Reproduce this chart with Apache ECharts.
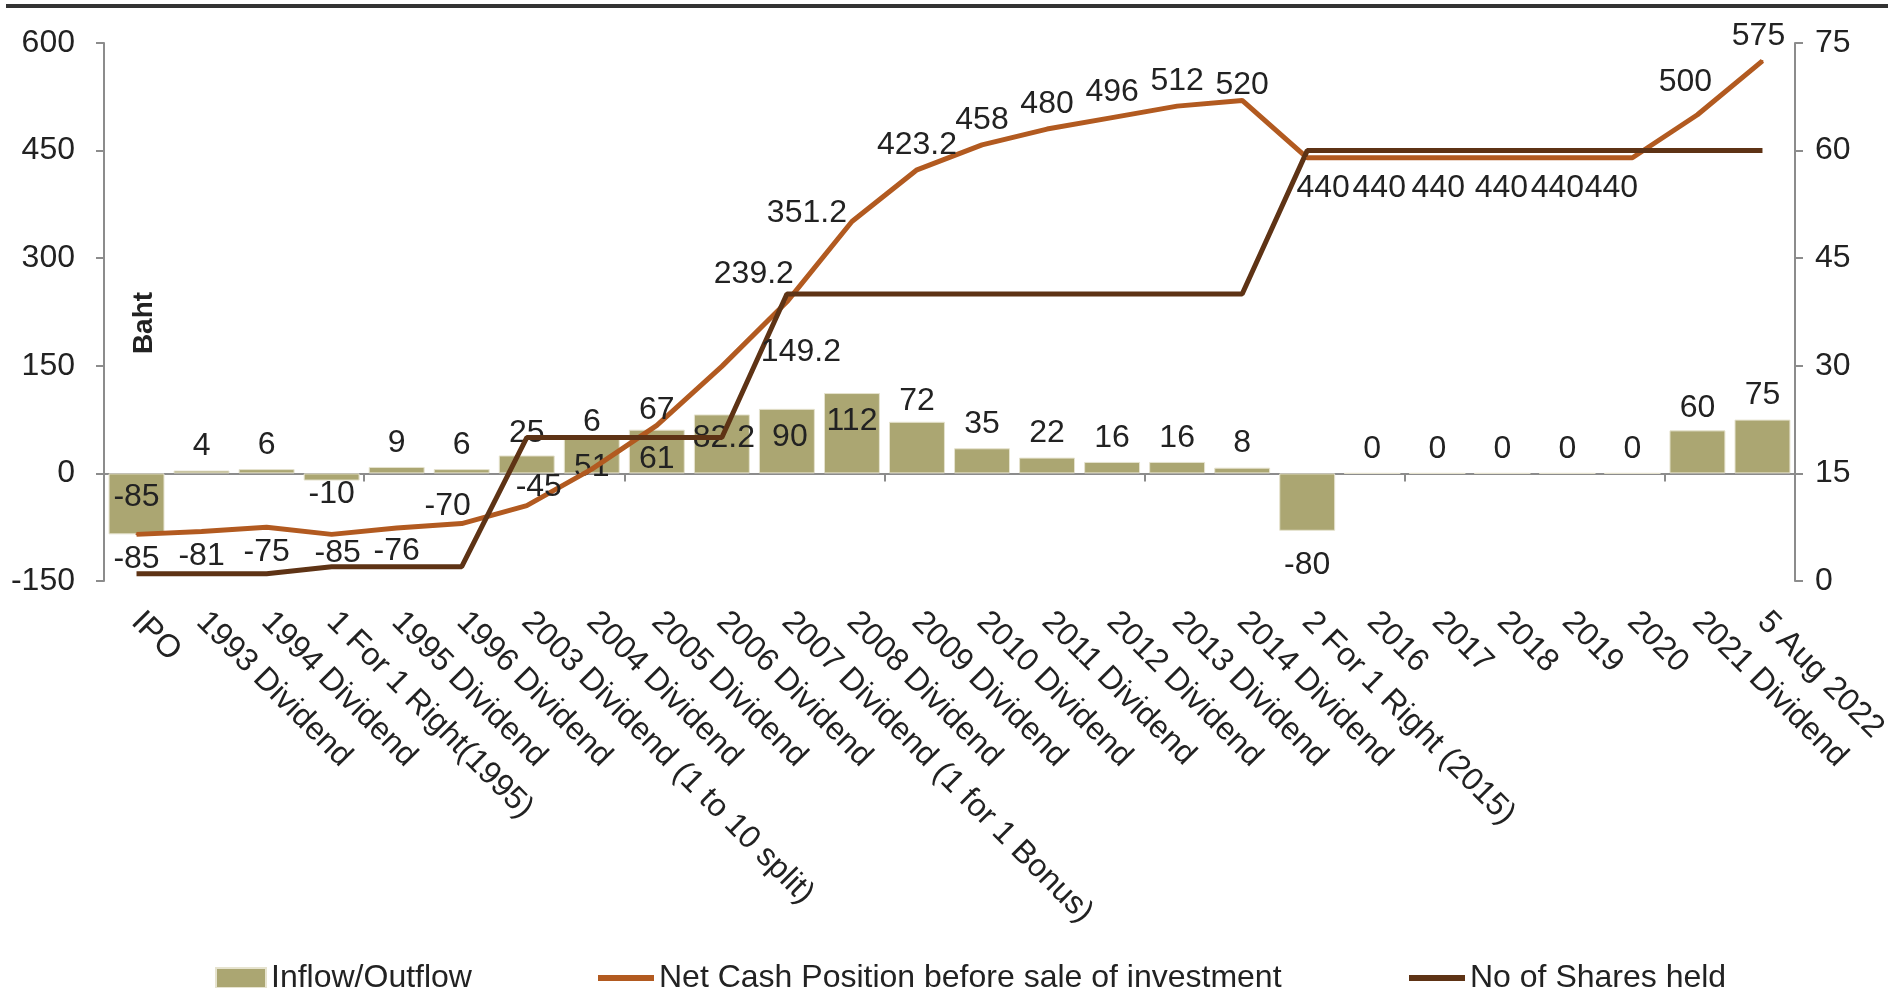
<!DOCTYPE html>
<html lang="en">
<head>
<meta charset="UTF-8">
<title>Inflow / Outflow and Net Cash Position</title>
<script src="https://cdn.jsdelivr.net/npm/echarts@6/dist/echarts.min.js"></script>
<style>
  html, body { margin: 0; padding: 0; background: #fff; }
  #chart { width: 1904px; height: 988px; }
</style>
</head>
<body>
<div id="chart"></div>
<script>
// categories along the x axis
var categories = ['IPO', '1993 Dividend', '1994 Dividend', '1 For 1 Right(1995)', '1995 Dividend',
  '1996 Dividend', '2003 Dividend (1 to 10 split)', '2004 Dividend', '2005 Dividend', '2006 Dividend',
  '2007 Dividend (1 for 1 Bonus)', '2008 Dividend', '2009 Dividend', '2010 Dividend', '2011 Dividend',
  '2012 Dividend', '2013 Dividend', '2014 Dividend', '2 For 1 Right (2015)', '2016', '2017', '2018',
  '2019', '2020', '2021 Dividend', '5 Aug 2022'];

// Baht, left axis
var inflowOutflow = [-85, 4, 6, -10, 9, 6, 25, 51, 61, 82.2, 90, 112, 72, 35, 22, 16, 16, 8, -80, 0, 0, 0, 0, 0, 60, 75];
var netCash = [-85, -81, -75, -85, -76, -70, -45, 6, 67, 149.2, 239.2, 351.2, 423.2, 458, 480, 496, 512, 520, 440, 440, 440, 440, 440, 440, 500, 575];
// right axis
var sharesHeld = [1, 1, 1, 2, 2, 2, 20, 20, 20, 20, 40, 40, 40, 40, 40, 40, 40, 40, 60, 60, 60, 60, 60, 60, 60, 60];

var leftMin = -150, leftMax = 600, leftStep = 150;
var rightMin = 0, rightMax = 75, rightStep = 15;

// label placement (style only)
var barLabelPos = ['insideTop', 'top', 'top', 'bottom', 'top', 'top', 'top', 'insideTop', 'insideTop', 'insideTop',
  'insideTop', 'insideTop', 'top', 'top', 'top', 'top', 'top', 'top', 'bottom', 'top', 'top', 'top', 'top', 'top', 'top', 'top'];
var barLabelOff = [[0, 0], [0, 0], [0, 0], [0, -10], [0, 0], [0, 0], [0, 2], [0, 6], [0, 6], [2, 0],
  [3, 4], [0, 4], [0, 3], [0, 0], [0, 0], [0, 0], [0, 0], [0, 0], [0, 10], [0, 0], [0, 0], [0, 0], [0, 0], [0, 0], [0, 2], [0, 0]];
var cashLabelPos = ['bottom', 'bottom', 'bottom', 'bottom', 'bottom', 'top', 'top', 'top', 'top', 'right', 'left', 'left',
  'top', 'top', 'top', 'top', 'top', 'top', 'bottom', 'bottom', 'bottom', 'bottom', 'bottom', 'bottom', 'top', 'top'];
var cashLabelOff = [[0, 0], [0, 0], [0, 0], [6, -6], [0, -2], [-14, 8], [12, 6], [0, -22], [0, 10], [30, -14], [16, -28], [4, -8],
  [0, 0], [0, 0], [0, 0], [0, 0], [0, 0], [0, 10], [16, 5], [7, 5], [1, 5], [-1, 5], [-10, 5], [-21, 5], [-12, -8], [-4, 0]];

var FONT = '"Liberation Sans", Arial, sans-serif';
var TXT = '#222';
var AXIS = '#8c8c8c';
var FS = 32;

var chart = echarts.init(document.getElementById('chart'));

var barData = inflowOutflow.map(function (v, i) {
  return { value: v, label: { position: barLabelPos[i], offset: barLabelOff[i] } };
});
var cashData = netCash.map(function (v, i) {
  return { value: v, label: { position: cashLabelPos[i], offset: cashLabelOff[i] } };
});

var labelStyle = { show: true, fontFamily: FONT, fontSize: FS, color: TXT, distance: 8 };

var option = {
  animation: false,
  textStyle: { fontFamily: FONT },
  grid: { left: 104, right: 109, top: 43, bottom: 407 },
  graphic: [
    { type: 'rect', shape: { x: 6, y: 4, width: 1882, height: 4 }, style: { fill: '#333' } },
    {
      type: 'text', x: 144, y: 323, rotation: Math.PI / 2,
      style: { text: 'Baht', font: 'bold 28px ' + FONT, fill: TXT, textAlign: 'center', textVerticalAlign: 'middle' }
    }
  ],
  legend: [
    {
      data: ['Inflow/Outflow'], left: 215, top: 962, padding: 0,
      itemWidth: 50, itemHeight: 20, icon: 'rect',
      textStyle: { fontFamily: FONT, fontSize: FS, color: TXT }
    },
    {
      data: ['Net Cash Position before sale of investment'], left: 598, top: 962, padding: 0,
      itemWidth: 56, itemHeight: 6, icon: 'rect',
      textStyle: { fontFamily: FONT, fontSize: FS, color: TXT }
    },
    {
      data: ['No of Shares held'], left: 1409, top: 962, padding: 0,
      itemWidth: 56, itemHeight: 6, icon: 'rect',
      textStyle: { fontFamily: FONT, fontSize: FS, color: TXT }
    }
  ],
  xAxis: [
    {
      type: 'category', data: categories, position: 'bottom',
      axisLine: { show: false }, axisTick: { show: false },
      axisLabel: { interval: 0, rotate: -45, margin: 36, fontSize: FS, color: TXT, fontFamily: FONT }
    },
    {
      type: 'category', data: categories, position: 'bottom',
      axisLine: { show: true, onZero: true, onZeroAxisIndex: 0, lineStyle: { color: AXIS, width: 2 } },
      axisTick: { show: true, length: 8, lineStyle: { color: AXIS, width: 2 } },
      axisLabel: { show: false }
    }
  ],
  yAxis: [
    {
      type: 'value', min: leftMin, max: leftMax, interval: leftStep, position: 'left',
      splitLine: { show: false },
      axisLine: { show: true, lineStyle: { color: AXIS, width: 2 } },
      axisTick: { show: true, length: 8, lineStyle: { color: AXIS, width: 2 } },
      axisLabel: { fontSize: FS, color: TXT, fontFamily: FONT, margin: 29 }
    },
    {
      type: 'value', min: rightMin, max: rightMax, interval: rightStep, position: 'right',
      splitLine: { show: false },
      axisLine: { show: true, lineStyle: { color: AXIS, width: 2 } },
      axisTick: { show: true, length: 8, lineStyle: { color: AXIS, width: 2 } },
      axisLabel: { fontSize: FS, color: TXT, fontFamily: FONT, margin: 20 }
    }
  ],
  series: [
    {
      name: 'Inflow/Outflow', type: 'bar', data: barData,
      xAxisIndex: 0, yAxisIndex: 0, barCategoryGap: '14%',
      itemStyle: { color: '#aba672', borderColor: '#e6e3cf', borderWidth: 1 },
      label: labelStyle
    },
    {
      name: 'Net Cash Position before sale of investment', type: 'line', data: cashData,
      xAxisIndex: 0, yAxisIndex: 0, symbol: 'circle', symbolSize: 2, showSymbol: true,
      itemStyle: { color: '#b25a20' },
      lineStyle: { color: '#b25a20', width: 5 },
      label: labelStyle
    },
    {
      name: 'No of Shares held', type: 'line', data: sharesHeld,
      xAxisIndex: 0, yAxisIndex: 1, symbol: 'none', showSymbol: false,
      itemStyle: { color: '#5e3315' },
      lineStyle: { color: '#5e3315', width: 5 }
    }
  ]
};

chart.setOption(option);
</script>
</body>
</html>
